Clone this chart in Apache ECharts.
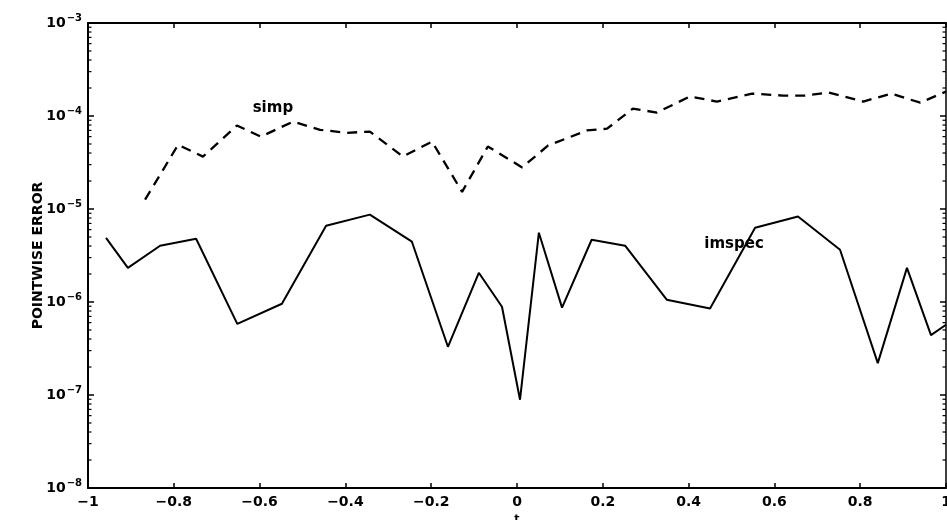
<!DOCTYPE html>
<html>
<head>
<meta charset="utf-8">
<script src="https://cdn.jsdelivr.net/npm/echarts@6/dist/echarts.min.js"></script>
<style>
  html, body { margin: 0; padding: 0; background: #fff; }
  #chart { width: 947px; height: 520px; }
</style>
</head>
<body>
<div id="chart"></div>
<script>
// ---- data ----
const imspecT = [-0.958, -0.907, -0.832, -0.748, -0.652, -0.548, -0.445, -0.343, -0.245, -0.161, -0.089, -0.035, 0.007, 0.051, 0.105, 0.174, 0.252, 0.349, 0.450, 0.555, 0.655, 0.753, 0.841, 0.909, 0.965, 1.0];
const imspecErr = [4.9e-6, 2.33e-6, 4.03e-6, 4.79e-6, 5.82e-7, 9.57e-7, 6.6e-6, 8.7e-6, 4.45e-6, 3.3e-7, 2.06e-6, 8.9e-7, 8.9e-8, 5.56e-6, 8.7e-7, 4.67e-6, 4.03e-6, 1.06e-6, 8.5e-7, 6.3e-6, 8.3e-6, 3.65e-6, 2.2e-7, 2.33e-6, 4.4e-7, 5.7e-7];

const simpT = [-0.867, -0.790, -0.732, -0.653, -0.597, -0.522, -0.459, -0.396, -0.343, -0.266, -0.198, -0.128, -0.068, 0.012, 0.072, 0.163, 0.210, 0.270, 0.326, 0.403, 0.466, 0.548, 0.620, 0.671, 0.727, 0.807, 0.872, 0.940, 1.0];
const simpErr = [1.26e-5, 4.9e-5, 3.66e-5, 7.9e-5, 6.0e-5, 8.7e-5, 7.1e-5, 6.6e-5, 6.8e-5, 3.66e-5, 5.3e-5, 1.53e-5, 4.7e-5, 2.8e-5, 4.8e-5, 7.0e-5, 7.3e-5, 1.2e-4, 1.09e-4, 1.62e-4, 1.43e-4, 1.74e-4, 1.66e-4, 1.66e-4, 1.79e-4, 1.43e-4, 1.74e-4, 1.39e-4, 1.83e-4];

const curveLabels = ['simp', 'imspec'];
const curveLabelT = [-0.569, 0.506];
const curveLabelErr = [1.23e-4, 4.2e-6];

const xMin = -1, xMax = 1, xStep = 0.2;
const yDecadeMin = -8, yDecadeMax = -3;
const minorMultipliers = [2, 3, 4, 5, 6, 7, 8, 9];

// ---- build ----
const zip = (a, b) => a.map((v, i) => [v, b[i]]);
const minorTickVals = [];
for (let k = yDecadeMin; k < yDecadeMax; k++) {
  minorMultipliers.forEach(m => minorTickVals.push([xMin, m * Math.pow(10, k)]));
}
const FONT = 'DejaVu Sans';
const fmtX = v => {
  const r = Math.round(v * 10) / 10;
  return String(r).replace('-', '\u2212');
};
const fmtY = v => {
  const e = Math.round(Math.log10(v));
  return '{b|10}{e|' + String(e).replace('-', '\u2212') + '}';
};

const chart = echarts.init(document.getElementById('chart'), null, { renderer: 'canvas' });
chart.setOption({
  animation: false,
  backgroundColor: '#ffffff',
  grid: { left: 88, right: 1, top: 23, bottom: 32, containLabel: false, outerBoundsMode: 'none' },
  xAxis: [{
    type: 'value', min: xMin, max: xMax, interval: xStep,
    name: 't', nameLocation: 'middle', nameGap: 24,
    nameTextStyle: { fontFamily: FONT, fontWeight: 'bold', fontSize: 11, color: '#000' },
    axisLine: { show: true, onZero: false, lineStyle: { color: '#000', width: 2 } },
    axisTick: { show: true, inside: true, length: 5, lineStyle: { color: '#000', width: 1.5 } },
    axisLabel: { formatter: fmtX, fontFamily: FONT, fontWeight: 'bold', fontSize: 14, color: '#000', margin: 7 },
    splitLine: { show: false }
  }, {
    type: 'value', min: xMin, max: xMax, interval: xStep, position: 'top',
    axisLine: { show: true, onZero: false, lineStyle: { color: '#000', width: 2 } },
    axisTick: { show: true, inside: true, length: 5, lineStyle: { color: '#000', width: 1.5 } },
    axisLabel: { show: false },
    splitLine: { show: false }
  }],
  yAxis: [{
    type: 'log', logBase: 10, min: Math.pow(10, yDecadeMin), max: Math.pow(10, yDecadeMax),
    name: 'POINTWISE ERROR', nameLocation: 'middle', nameGap: 43, nameRotate: 90, nameMoveOverlap: false,
    nameTextStyle: { fontFamily: FONT, fontWeight: 'bold', fontSize: 14, color: '#000' },
    axisLine: { show: true, onZero: false, lineStyle: { color: '#000', width: 2 } },
    axisTick: { show: true, inside: true, length: 6, lineStyle: { color: '#000', width: 1.5 } },
    axisLabel: {
      formatter: fmtY, margin: 6, color: '#000',
      rich: {
        b: { fontFamily: FONT, fontWeight: 'bold', fontSize: 14, color: '#000' },
        e: { fontFamily: FONT, fontWeight: 'bold', fontSize: 10, color: '#000', padding: [0, 0, 9, 1] }
      }
    },
    splitLine: { show: false }
  }, {
    type: 'log', logBase: 10, min: Math.pow(10, yDecadeMin), max: Math.pow(10, yDecadeMax), position: 'right',
    axisLine: { show: true, onZero: false, lineStyle: { color: '#000', width: 1.5 } },
    axisTick: { show: true, inside: true, length: 6, lineStyle: { color: '#000', width: 1.5 } },
    axisLabel: { show: false },
    splitLine: { show: false }
  }],
  series: [{
    name: 'imspec', type: 'line', xAxisIndex: 0, yAxisIndex: 0,
    data: zip(imspecT, imspecErr), showSymbol: false, symbol: 'none',
    lineStyle: { color: '#000', width: 2, type: 'solid' }
  }, {
    name: 'simp', type: 'line', xAxisIndex: 0, yAxisIndex: 0,
    data: zip(simpT, simpErr), showSymbol: false, symbol: 'none',
    lineStyle: { color: '#000', width: 2.3, type: [10, 7] }
  }, {
    name: 'labels', type: 'scatter', xAxisIndex: 0, yAxisIndex: 0,
    symbolSize: 0,
    itemStyle: { opacity: 1, color: '#000' },
    data: curveLabels.map((s, i) => [curveLabelT[i], curveLabelErr[i], s]),
    label: {
      show: true, position: 'inside', formatter: p => p.value[2],
      fontFamily: FONT, fontWeight: 'bold', fontSize: 15, color: '#000', textBorderWidth: 0
    },
    silent: true
  }, {
    name: 'minorTicks', type: 'custom', xAxisIndex: 0, yAxisIndex: 0,
    data: minorTickVals, silent: true, clip: false,
    renderItem: (params, api) => {
      const v = api.value(1);
      const pL = api.coord([xMin, v]);
      const pR = api.coord([xMax, v]);
      const st = { stroke: '#000', lineWidth: 1.2 };
      return {
        type: 'group',
        children: [
          { type: 'line', shape: { x1: pL[0], y1: pL[1], x2: pL[0] + 3.5, y2: pL[1] }, style: st },
          { type: 'line', shape: { x1: pR[0], y1: pR[1], x2: pR[0] - 3.5, y2: pR[1] }, style: st }
        ]
      };
    }
  }]
});
</script>
</body>
</html>
